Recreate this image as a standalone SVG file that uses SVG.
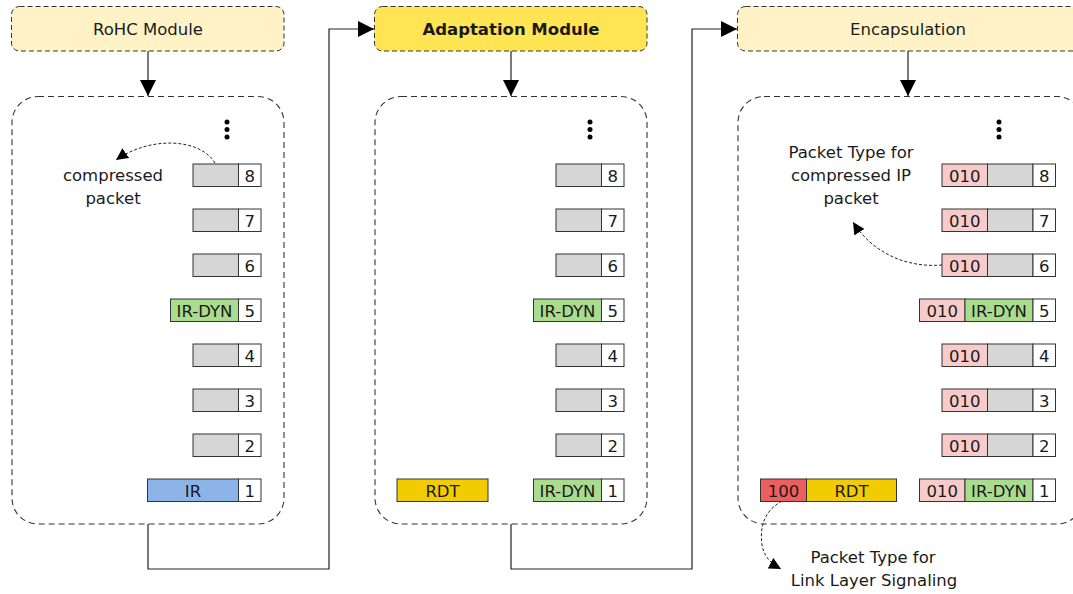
<svg xmlns="http://www.w3.org/2000/svg" width="1073" height="594" viewBox="0 0 1073 594">
<defs>
<style>
text{font-family:"DejaVu Sans","Liberation Sans",sans-serif;font-size:16.5px;fill:#1a1a1a;text-anchor:middle}
.hdr{stroke:#333;stroke-width:1;stroke-dasharray:5,3}
.panel{fill:none;stroke:#333;stroke-width:1.1;stroke-dasharray:6,4}
.c{stroke:#333;stroke-width:1}
.num{fill:#fff}
.gray{fill:#d6d6d6}
.green{fill:#a9dc8e}
.blue{fill:#8db4e8}
.pink{fill:#f8cbcb}
.red{fill:#ec5f5f}
.gold{fill:#f2cc00}
.line{fill:none;stroke:#222;stroke-width:1.2}
.dash{fill:none;stroke:#222;stroke-width:1;stroke-dasharray:3,2}
</style>
<marker id="ah" markerUnits="userSpaceOnUse" markerWidth="18" markerHeight="16" refX="16" refY="8" orient="auto"><path d="M0,0 L16,8 L0,16 Z" fill="#000"/></marker>
<marker id="as" markerUnits="userSpaceOnUse" markerWidth="14" markerHeight="12" refX="12" refY="6" orient="auto"><path d="M0,0 L12,6 L0,12 Z" fill="#000"/></marker>
</defs>

<g id="connectors">
<path class="line" d="M148,51 V96" marker-end="url(#ah)"/>
<path class="line" d="M511,51 V96" marker-end="url(#ah)"/>
<path class="line" d="M908,51 V96" marker-end="url(#ah)"/>
<path class="line" d="M148,524 V569 H329 V29 H374" marker-end="url(#ah)"/>
<path class="line" d="M511,524 V569 H692 V29 H737" marker-end="url(#ah)"/>
<path class="dash" d="M215,163 C200,138 150,136 116,160" marker-end="url(#as)"/>
<path class="dash" d="M942,265 C905,268 872,252 853,222" marker-end="url(#as)"/>
<path class="dash" d="M782,501 C762,512 760,530 762,545 C764,556 770,563 781,569" marker-end="url(#as)"/>
</g>

<g id="rohc-module">
<rect class="hdr" x="11.5" y="6.5" width="272.5" height="44.5" rx="8" fill="#fff2c6"/>
<text x="148" y="34.5">RoHC Module</text>
</g>
<g id="adaptation-module">
<rect class="hdr" x="374.5" y="6.5" width="272.5" height="44.5" rx="8" fill="#ffe553"/>
<text x="511" y="34.5" font-weight="bold">Adaptation Module</text>
</g>
<g id="encapsulation">
<rect class="hdr" x="737.5" y="6.5" width="345" height="44.5" rx="8" fill="#fff2c6"/>
<text x="908" y="34.5">Encapsulation</text>
</g>

<g id="rohc-buffer">
<rect class="panel" x="12" y="96.5" width="272" height="427.5" rx="26"/>
<circle cx="227" cy="122" r="2.5"/><circle cx="227" cy="129.5" r="2.5"/><circle cx="227" cy="137" r="2.5"/>
<text x="113" y="181">compressed</text>
<text x="113" y="204">packet</text>
<g class="c">
<rect class="gray" x="193" y="164" width="45.5" height="22.5"/><rect class="num" x="238.5" y="164" width="22.5" height="22.5"/>
<rect class="gray" x="193" y="209" width="45.5" height="22.5"/><rect class="num" x="238.5" y="209" width="22.5" height="22.5"/>
<rect class="gray" x="193" y="254" width="45.5" height="22.5"/><rect class="num" x="238.5" y="254" width="22.5" height="22.5"/>
<rect class="green" x="170.5" y="299" width="68" height="22.5"/><rect class="num" x="238.5" y="299" width="22.5" height="22.5"/>
<rect class="gray" x="193" y="344" width="45.5" height="22.5"/><rect class="num" x="238.5" y="344" width="22.5" height="22.5"/>
<rect class="gray" x="193" y="389" width="45.5" height="22.5"/><rect class="num" x="238.5" y="389" width="22.5" height="22.5"/>
<rect class="gray" x="193" y="434" width="45.5" height="22.5"/><rect class="num" x="238.5" y="434" width="22.5" height="22.5"/>
<rect class="blue" x="147.5" y="479" width="91" height="22.5"/><rect class="num" x="238.5" y="479" width="22.5" height="22.5"/>
</g>
<text x="249.75" y="181.5">8</text><text x="249.75" y="226.5">7</text><text x="249.75" y="271.5">6</text>
<text x="249.75" y="316.5">5</text><text x="249.75" y="361.5">4</text><text x="249.75" y="406.5">3</text>
<text x="249.75" y="451.5">2</text><text x="249.75" y="496.5">1</text>
<text x="204.5" y="316.5">IR-DYN</text>
<text x="193" y="496.5">IR</text>
</g>

<g id="adaptation-buffer">
<rect class="panel" x="375" y="96.5" width="272" height="427.5" rx="26"/>
<circle cx="590" cy="122" r="2.5"/><circle cx="590" cy="129.5" r="2.5"/><circle cx="590" cy="137" r="2.5"/>
<g class="c">
<rect class="gray" x="556" y="164" width="45.5" height="22.5"/><rect class="num" x="601.5" y="164" width="22.5" height="22.5"/>
<rect class="gray" x="556" y="209" width="45.5" height="22.5"/><rect class="num" x="601.5" y="209" width="22.5" height="22.5"/>
<rect class="gray" x="556" y="254" width="45.5" height="22.5"/><rect class="num" x="601.5" y="254" width="22.5" height="22.5"/>
<rect class="green" x="533.5" y="299" width="68" height="22.5"/><rect class="num" x="601.5" y="299" width="22.5" height="22.5"/>
<rect class="gray" x="556" y="344" width="45.5" height="22.5"/><rect class="num" x="601.5" y="344" width="22.5" height="22.5"/>
<rect class="gray" x="556" y="389" width="45.5" height="22.5"/><rect class="num" x="601.5" y="389" width="22.5" height="22.5"/>
<rect class="gray" x="556" y="434" width="45.5" height="22.5"/><rect class="num" x="601.5" y="434" width="22.5" height="22.5"/>
<rect class="green" x="533.5" y="479" width="68" height="22.5"/><rect class="num" x="601.5" y="479" width="22.5" height="22.5"/>
<rect class="gold" x="397" y="479" width="91" height="22.5"/>
</g>
<text x="612.75" y="181.5">8</text><text x="612.75" y="226.5">7</text><text x="612.75" y="271.5">6</text>
<text x="612.75" y="316.5">5</text><text x="612.75" y="361.5">4</text><text x="612.75" y="406.5">3</text>
<text x="612.75" y="451.5">2</text><text x="612.75" y="496.5">1</text>
<text x="567.5" y="316.5">IR-DYN</text>
<text x="567.5" y="496.5">IR-DYN</text>
<text x="442.5" y="496.5">RDT</text>
</g>

<g id="encapsulation-buffer">
<rect class="panel" x="738" y="96.5" width="345" height="427.5" rx="26"/>
<circle cx="999" cy="122" r="2.5"/><circle cx="999" cy="129.5" r="2.5"/><circle cx="999" cy="137" r="2.5"/>
<text x="851" y="158">Packet Type for</text>
<text x="851" y="181">compressed IP</text>
<text x="851" y="204">packet</text>
<g class="c">
<rect class="pink" x="942" y="164" width="45.5" height="22.5"/><rect class="gray" x="987.5" y="164" width="45.5" height="22.5"/><rect class="num" x="1033" y="164" width="22.5" height="22.5"/>
<rect class="pink" x="942" y="209" width="45.5" height="22.5"/><rect class="gray" x="987.5" y="209" width="45.5" height="22.5"/><rect class="num" x="1033" y="209" width="22.5" height="22.5"/>
<rect class="pink" x="942" y="254" width="45.5" height="22.5"/><rect class="gray" x="987.5" y="254" width="45.5" height="22.5"/><rect class="num" x="1033" y="254" width="22.5" height="22.5"/>
<rect class="pink" x="919.5" y="299" width="45.5" height="22.5"/><rect class="green" x="965" y="299" width="68" height="22.5"/><rect class="num" x="1033" y="299" width="22.5" height="22.5"/>
<rect class="pink" x="942" y="344" width="45.5" height="22.5"/><rect class="gray" x="987.5" y="344" width="45.5" height="22.5"/><rect class="num" x="1033" y="344" width="22.5" height="22.5"/>
<rect class="pink" x="942" y="389" width="45.5" height="22.5"/><rect class="gray" x="987.5" y="389" width="45.5" height="22.5"/><rect class="num" x="1033" y="389" width="22.5" height="22.5"/>
<rect class="pink" x="942" y="434" width="45.5" height="22.5"/><rect class="gray" x="987.5" y="434" width="45.5" height="22.5"/><rect class="num" x="1033" y="434" width="22.5" height="22.5"/>
<rect class="pink" x="919.5" y="479" width="45.5" height="22.5"/><rect class="green" x="965" y="479" width="68" height="22.5"/><rect class="num" x="1033" y="479" width="22.5" height="22.5"/>
<rect class="red" x="760.5" y="479" width="46" height="22.5"/><rect class="gold" x="806.5" y="479" width="90" height="22.5"/>
</g>
<text x="1044.25" y="181.5">8</text><text x="1044.25" y="226.5">7</text><text x="1044.25" y="271.5">6</text>
<text x="1044.25" y="316.5">5</text><text x="1044.25" y="361.5">4</text><text x="1044.25" y="406.5">3</text>
<text x="1044.25" y="451.5">2</text><text x="1044.25" y="496.5">1</text>
<text x="964.75" y="181.5">010</text><text x="964.75" y="226.5">010</text><text x="964.75" y="271.5">010</text>
<text x="942.25" y="316.5">010</text><text x="964.75" y="361.5">010</text><text x="964.75" y="406.5">010</text>
<text x="964.75" y="451.5">010</text><text x="942.25" y="496.5">010</text>
<text x="999" y="316.5">IR-DYN</text>
<text x="999" y="496.5">IR-DYN</text>
<text x="783.5" y="496.5">100</text>
<text x="851.5" y="496.5">RDT</text>
</g>

<g id="link-layer-label">
<text x="873" y="563">Packet Type for</text>
<text x="874" y="586">Link Layer Signaling</text>
</g>
</svg>
